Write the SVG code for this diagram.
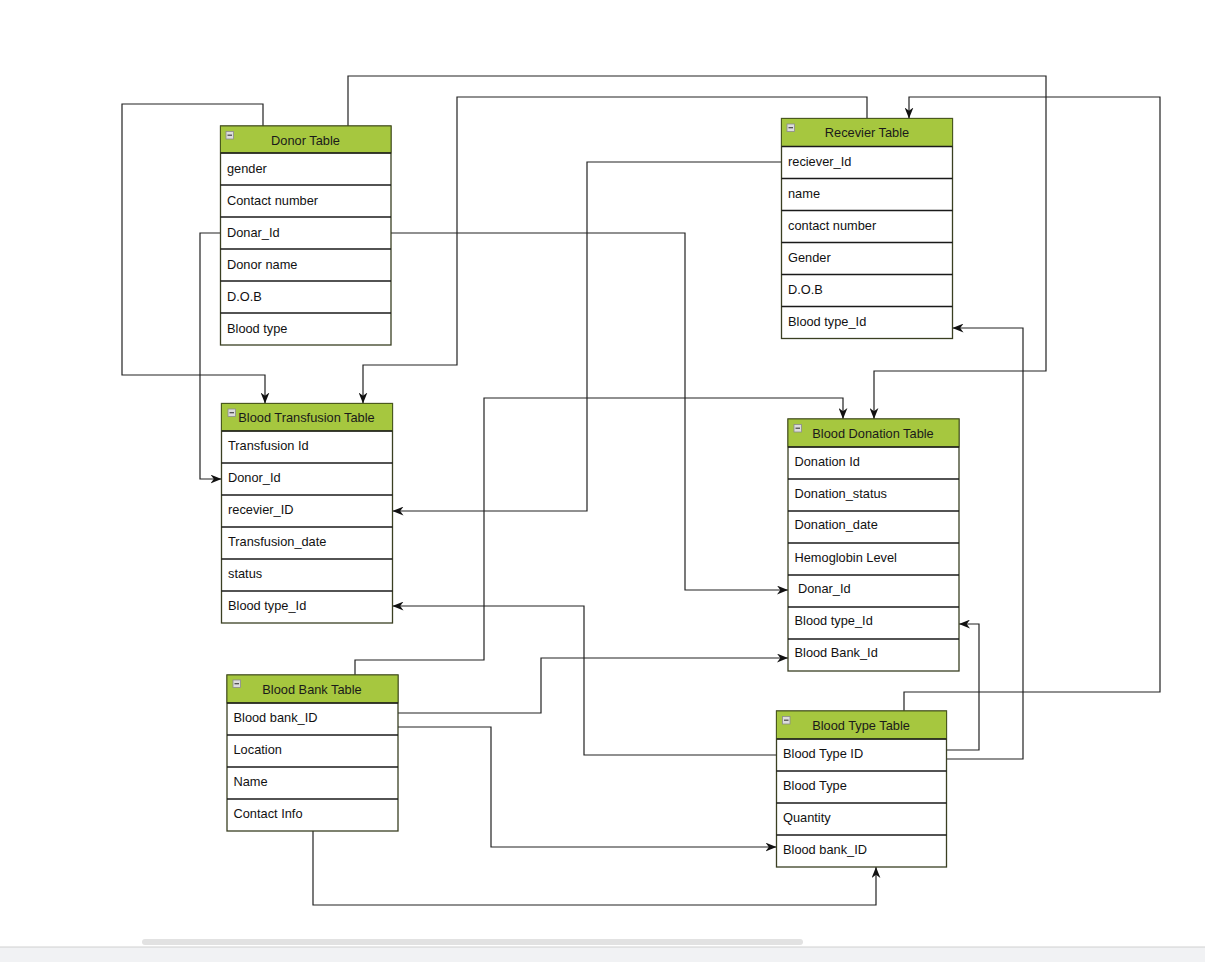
<svg xmlns="http://www.w3.org/2000/svg" width="1205" height="962" viewBox="0 0 1205 962">
<style>
.hdr{fill:#a6c73f;stroke:#4a5a1c;stroke-width:1}
.box{fill:#ffffff;stroke:#3a3f22;stroke-width:1.3}
.sep{stroke:#1a1a1a;stroke-width:1.5}
.t{font-family:"Liberation Sans",Arial,sans-serif;font-size:12.8px;fill:#111}
.h{font-family:"Liberation Sans",Arial,sans-serif;font-size:12.8px;fill:#1a1a1a;text-anchor:middle}
.ic{fill:#dcdcdc;stroke:#8a8a8a;stroke-width:0.8}
.icm{stroke:#444;stroke-width:1.2}
.c{fill:none;stroke:#222;stroke-width:1.2}
</style>
<defs>
<marker id="arr" viewBox="0 0 10 8" refX="10" refY="4" markerWidth="11" markerHeight="9" orient="auto" markerUnits="userSpaceOnUse">
<path d="M0,0 L10,4 L0,8 L3,4 Z" fill="#111"/>
</marker>
</defs>
<rect x="0" y="0" width="1205" height="962" fill="#ffffff"/>

<g id="connectors">
<path class="c" d="M263,126 V104 H122 V375 H265 V403.5" marker-end="url(#arr)"/>
<path class="c" d="M348,126 V76 H1046 V371 H874 V419" marker-end="url(#arr)"/>
<path class="c" d="M867,118.5 V97 H457 V365 H363 V403.5" marker-end="url(#arr)"/>
<path class="c" d="M781.5,162 H587 V511 H392.5" marker-end="url(#arr)"/>
<path class="c" d="M220.5,233 H200 V479 H221.5" marker-end="url(#arr)"/>
<path class="c" d="M391,233 H685 V590 H788" marker-end="url(#arr)"/>
<path class="c" d="M904,711 V692 H1160 V97 H909 V118.5" marker-end="url(#arr)"/>
<path class="c" d="M946.5,750 H979 V624 H959" marker-end="url(#arr)"/>
<path class="c" d="M946.5,759 H1023 V328 H952.5" marker-end="url(#arr)"/>
<path class="c" d="M776.5,755 H584 V606 H392.5" marker-end="url(#arr)"/>
<path class="c" d="M355,675 V660 H484 V398 H843 V419" marker-end="url(#arr)"/>
<path class="c" d="M398,713 H541 V658 H788" marker-end="url(#arr)"/>
<path class="c" d="M398,727 H491 V847 H776.5" marker-end="url(#arr)"/>
<path class="c" d="M313,831 V905 H876 V867" marker-end="url(#arr)"/>
</g>

<g id="donor">
<rect class="box" x="220.5" y="126" width="170.5" height="219"/>
<rect class="hdr" x="220.5" y="126" width="170.5" height="27"/>
<rect class="ic" x="226" y="131.5" width="7.5" height="7.5"/><line class="icm" x1="227.5" y1="135.2" x2="232" y2="135.2"/>
<text class="h" x="305.5" y="145">Donor Table</text>
<line class="sep" x1="220.5" y1="153" x2="391" y2="153"/>
<line class="sep" x1="220.5" y1="185" x2="391" y2="185"/>
<line class="sep" x1="220.5" y1="217" x2="391" y2="217"/>
<line class="sep" x1="220.5" y1="249" x2="391" y2="249"/>
<line class="sep" x1="220.5" y1="281" x2="391" y2="281"/>
<line class="sep" x1="220.5" y1="313" x2="391" y2="313"/>
<text class="t" x="227" y="172.5">gender</text>
<text class="t" x="227" y="204.5">Contact number</text>
<text class="t" x="227" y="236.5">Donar_Id</text>
<text class="t" x="227" y="268.5">Donor name</text>
<text class="t" x="227" y="300.5">D.O.B</text>
<text class="t" x="227" y="332.5">Blood type</text>
</g>

<g id="receiver">
<rect class="box" x="781.5" y="118.5" width="171" height="220"/>
<rect class="hdr" x="781.5" y="118.5" width="171" height="28"/>
<rect class="ic" x="787" y="124" width="7.5" height="7.5"/><line class="icm" x1="788.5" y1="127.7" x2="793" y2="127.7"/>
<text class="h" x="867" y="137">Recevier Table</text>
<line class="sep" x1="781.5" y1="146.5" x2="952.5" y2="146.5"/>
<line class="sep" x1="781.5" y1="178.5" x2="952.5" y2="178.5"/>
<line class="sep" x1="781.5" y1="210.5" x2="952.5" y2="210.5"/>
<line class="sep" x1="781.5" y1="242.5" x2="952.5" y2="242.5"/>
<line class="sep" x1="781.5" y1="274.5" x2="952.5" y2="274.5"/>
<line class="sep" x1="781.5" y1="306.5" x2="952.5" y2="306.5"/>
<text class="t" x="788" y="165.5">reciever_Id</text>
<text class="t" x="788" y="197.5">name</text>
<text class="t" x="788" y="229.5">contact number</text>
<text class="t" x="788" y="261.5">Gender</text>
<text class="t" x="788" y="293.5">D.O.B</text>
<text class="t" x="788" y="325.5">Blood type_Id</text>
</g>

<g id="transfusion">
<rect class="box" x="221.5" y="403.5" width="171" height="219.5"/>
<rect class="hdr" x="221.5" y="403.5" width="171" height="27.5"/>
<rect class="ic" x="228" y="409" width="7.5" height="7.5"/><line class="icm" x1="229.5" y1="412.7" x2="234" y2="412.7"/>
<text class="h" x="306.5" y="422">Blood Transfusion Table</text>
<line class="sep" x1="221.5" y1="431" x2="392.5" y2="431"/>
<line class="sep" x1="221.5" y1="463" x2="392.5" y2="463"/>
<line class="sep" x1="221.5" y1="495" x2="392.5" y2="495"/>
<line class="sep" x1="221.5" y1="527" x2="392.5" y2="527"/>
<line class="sep" x1="221.5" y1="559" x2="392.5" y2="559"/>
<line class="sep" x1="221.5" y1="591" x2="392.5" y2="591"/>
<text class="t" x="228" y="449.5">Transfusion Id</text>
<text class="t" x="228" y="481.5">Donor_Id</text>
<text class="t" x="228" y="513.5">recevier_ID</text>
<text class="t" x="228" y="545.5">Transfusion_date</text>
<text class="t" x="228" y="577.5">status</text>
<text class="t" x="228" y="609.5">Blood type_Id</text>
</g>

<g id="donation">
<rect class="box" x="788" y="419" width="171" height="252"/>
<rect class="hdr" x="788" y="419" width="171" height="28"/>
<rect class="ic" x="794" y="424.5" width="7.5" height="7.5"/><line class="icm" x1="795.5" y1="428.2" x2="800" y2="428.2"/>
<text class="h" x="873" y="437.5">Blood Donation Table</text>
<line class="sep" x1="788" y1="447" x2="959" y2="447"/>
<line class="sep" x1="788" y1="479" x2="959" y2="479"/>
<line class="sep" x1="788" y1="511" x2="959" y2="511"/>
<line class="sep" x1="788" y1="543" x2="959" y2="543"/>
<line class="sep" x1="788" y1="575" x2="959" y2="575"/>
<line class="sep" x1="788" y1="607" x2="959" y2="607"/>
<line class="sep" x1="788" y1="639" x2="959" y2="639"/>
<text class="t" x="794.5" y="465.5">Donation Id</text>
<text class="t" x="794.5" y="497.5">Donation_status</text>
<text class="t" x="794.5" y="528.5">Donation_date</text>
<text class="t" x="794.5" y="561.5">Hemoglobin Level</text>
<text class="t" x="798" y="592.5">Donar_Id</text>
<text class="t" x="794.5" y="624.5">Blood type_Id</text>
<text class="t" x="794.5" y="656.5">Blood Bank_Id</text>
</g>

<g id="bloodbank">
<rect class="box" x="227" y="675" width="171" height="156"/>
<rect class="hdr" x="227" y="675" width="171" height="28"/>
<rect class="ic" x="233" y="680" width="7.5" height="7.5"/><line class="icm" x1="234.5" y1="683.7" x2="239" y2="683.7"/>
<text class="h" x="312" y="693.5">Blood Bank Table</text>
<line class="sep" x1="227" y1="703" x2="398" y2="703"/>
<line class="sep" x1="227" y1="735" x2="398" y2="735"/>
<line class="sep" x1="227" y1="767" x2="398" y2="767"/>
<line class="sep" x1="227" y1="799" x2="398" y2="799"/>
<text class="t" x="233.5" y="721.5">Blood bank_ID</text>
<text class="t" x="233.5" y="753.5">Location</text>
<text class="t" x="233.5" y="785.5">Name</text>
<text class="t" x="233.5" y="817.5">Contact Info</text>
</g>

<g id="bloodtype">
<rect class="box" x="776.5" y="711" width="170" height="156"/>
<rect class="hdr" x="776.5" y="711" width="170" height="28"/>
<rect class="ic" x="782.5" y="716.5" width="7.5" height="7.5"/><line class="icm" x1="784" y1="720.2" x2="788.5" y2="720.2"/>
<text class="h" x="861" y="729.5">Blood Type Table</text>
<line class="sep" x1="776.5" y1="739" x2="946.5" y2="739"/>
<line class="sep" x1="776.5" y1="771" x2="946.5" y2="771"/>
<line class="sep" x1="776.5" y1="803" x2="946.5" y2="803"/>
<line class="sep" x1="776.5" y1="835" x2="946.5" y2="835"/>
<text class="t" x="783" y="757.5">Blood Type ID</text>
<text class="t" x="783" y="789.5">Blood Type</text>
<text class="t" x="783" y="821.5">Quantity</text>
<text class="t" x="783" y="853.5">Blood bank_ID</text>
</g>

<rect x="142" y="939" width="661" height="6" rx="3" fill="#e2e2e2"/>
<rect x="0" y="947" width="1205" height="15" fill="#f1f2f4"/>
<line x1="0" y1="947" x2="1205" y2="947" stroke="#d0d0d0" stroke-width="1"/>
</svg>
